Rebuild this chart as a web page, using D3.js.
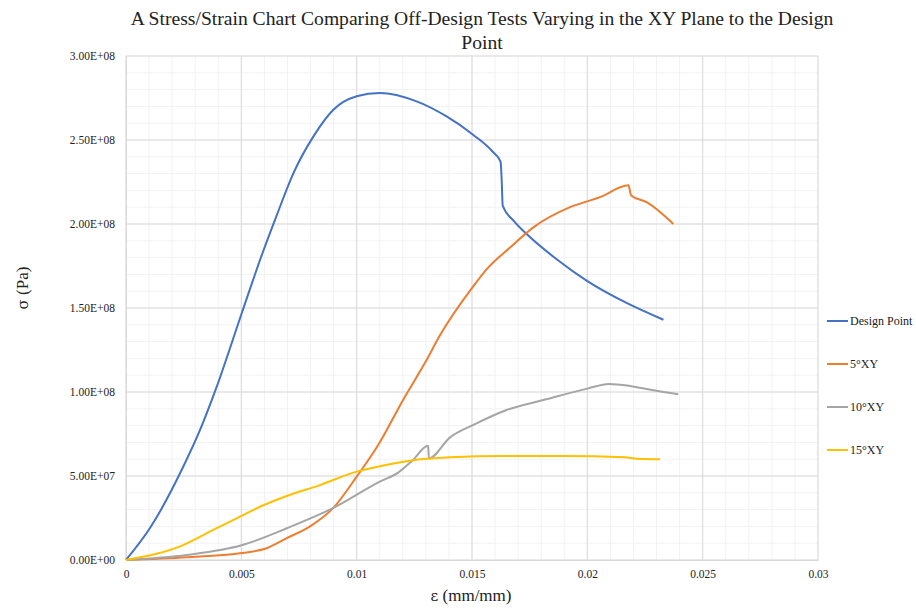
<!DOCTYPE html>
<html>
<head>
<meta charset="utf-8">
<script src="https://cdn.jsdelivr.net/npm/d3@7"></script>
<style>
  body { margin: 0; background: #fff; }
  svg text { fill: #222; }
</style>
</head>
<body>
<svg id="chart"></svg>
<script>
// values: [strain (mm/mm), stress (Pa)]
const designPoint = [
  [0, 0], [0.00104, 1.9e7], [0.00248, 5.55e7], [0.00321, 7.74e7], [0.00393, 1.03e8],
  [0.00502, 1.47e8], [0.0059, 1.82e8], [0.00653, 2.05e8], [0.00725, 2.30e8],
  [0.00812, 2.52e8], [0.00899, 2.68e8], [0.0100, 2.76e8], [0.0110, 2.78e8],
  [0.0126, 2.73e8], [0.0139, 2.64e8], [0.01506, 2.53e8], [0.0159, 2.43e8],
  [0.01624, 2.37e8], [0.01629, 2.25e8], [0.01633, 2.11e8], [0.0168, 2.02e8],
  [0.01737, 1.94e8], [0.01867, 1.79e8], [0.0200, 1.66e8], [0.0217, 1.53e8],
  [0.0233, 1.43e8]
];
const xy5 = [
  [0, 0], [0.00263, 1.6e6], [0.00494, 4e6], [0.0061, 7e6], [0.00697, 1.3e7],
  [0.00798, 2.0e7], [0.00899, 3.1e7], [0.0100, 4.96e7], [0.0110, 7.0e7],
  [0.0120, 9.5e7], [0.01303, 1.19e8], [0.01358, 1.33e8], [0.01506, 1.63e8],
  [0.01563, 1.73e8], [0.01665, 1.86e8], [0.01766, 1.98e8], [0.01925, 2.10e8],
  [0.02055, 2.16e8], [0.02178, 2.23e8], [0.02190, 2.17e8], [0.02257, 2.13e8],
  [0.02373, 2.0e8]
];
const xy10 = [
  [0, 0], [0.00263, 3e6], [0.00505, 8.9e6], [0.00697, 1.89e7], [0.00899, 3.1e7],
  [0.0110, 4.66e7], [0.0118, 5.2e7], [0.0124, 5.9e7], [0.01310, 6.8e7],
  [0.01313, 6.05e7], [0.01405, 7.3e7], [0.01506, 8.04e7], [0.0165, 8.93e7],
  [0.01809, 9.52e7], [0.0200, 1.02e8], [0.02093, 1.048e8], [0.02185, 1.036e8],
  [0.02286, 1.01e8], [0.02394, 9.86e7]
];
const xy15 = [
  [0, 0], [0.00248, 8.9e6], [0.00378, 1.79e7], [0.00494, 2.58e7], [0.00581, 3.17e7],
  [0.00697, 3.81e7], [0.00841, 4.46e7], [0.0100, 5.26e7], [0.0110, 5.58e7],
  [0.01231, 5.91e7], [0.01405, 6.11e7], [0.01636, 6.19e7], [0.01896, 6.19e7],
  [0.02163, 6.11e7], [0.02214, 6.03e7], [0.02315, 6.0e7]
];
const seriesNames = ['Design Point', '5°XY', '10°XY', '15°XY'];
const seriesData = [designPoint, xy5, xy10, xy15];
const seriesColors = ['#4472C4', '#ED7D31', '#A5A5A5', '#FFC000'];
const xTicks = [0, 0.005, 0.01, 0.015, 0.02, 0.025, 0.03];
const xTickLabels = ['0', '0.005', '0.01', '0.015', '0.02', '0.025', '0.03'];
const yTicks = [0, 5e7, 1e8, 1.5e8, 2e8, 2.5e8, 3e8];
const yTickLabels = ['0.00E+00', '5.00E+07', '1.00E+08', '1.50E+08', '2.00E+08', '2.50E+08', '3.00E+08'];

const width = 916, height = 608;
const serif = 'Liberation Serif';
const svg = d3.select('#chart').attr('width', width).attr('height', height);

const plot = { left: 126, right: 818, top: 56, bottom: 560 };
const x = d3.scaleLinear().domain([0, 0.03]).range([plot.left, plot.right]);
const y = d3.scaleLinear().domain([0, 3e8]).range([plot.bottom, plot.top]);

// minor gridlines
const grid = svg.append('g');
grid.selectAll('line.xminor')
  .data(d3.range(0, 31).map((i) => i * 0.001))
  .enter().append('line')
  .attr('x1', (d) => x(d)).attr('x2', (d) => x(d))
  .attr('y1', plot.top).attr('y2', plot.bottom)
  .style('stroke', '#f2f2f2').style('stroke-width', 1);
grid.selectAll('line.yminor')
  .data(d3.range(0, 31).map((i) => i * 1e7))
  .enter().append('line')
  .attr('y1', (d) => y(d)).attr('y2', (d) => y(d))
  .attr('x1', plot.left).attr('x2', plot.right)
  .style('stroke', '#f2f2f2').style('stroke-width', 1);

// major gridlines
grid.selectAll('line.xmajor')
  .data(xTicks)
  .enter().append('line')
  .attr('x1', (d) => x(d)).attr('x2', (d) => x(d))
  .attr('y1', plot.top).attr('y2', plot.bottom)
  .style('stroke', '#d9d9d9').style('stroke-width', 1);
grid.selectAll('line.ymajor')
  .data(yTicks)
  .enter().append('line')
  .attr('y1', (d) => y(d)).attr('y2', (d) => y(d))
  .attr('x1', plot.left).attr('x2', plot.right)
  .style('stroke', '#d9d9d9').style('stroke-width', 1);

// axes (labels only, lines come from the grid)
const xAxis = d3.axisBottom(x).tickValues(xTicks).tickFormat((d, i) => xTickLabels[i]).tickSize(0).tickPadding(10);
svg.append('g').attr('transform', `translate(0,${plot.bottom})`).call(xAxis)
  .attr('font-family', serif).attr('font-size', 11.5)
  .call((g) => g.select('.domain').style('stroke', '#d9d9d9'))
  .call((g) => g.selectAll('text').attr('fill', '#333'));

const yAxis = d3.axisLeft(y).tickValues(yTicks).tickFormat((d, i) => yTickLabels[i]).tickSize(0).tickPadding(11);
svg.append('g').attr('transform', `translate(${plot.left},0)`).call(yAxis)
  .attr('font-family', serif).attr('font-size', 11.5)
  .call((g) => g.select('.domain').style('stroke', '#d9d9d9'))
  .call((g) => g.selectAll('text').attr('fill', '#333'));

// series lines
const line = d3.line()
  .x((d) => x(d[0]))
  .y((d) => y(d[1]))
  .curve(d3.curveMonotoneX);

svg.append('g').selectAll('path')
  .data(seriesData)
  .enter().append('path')
  .attr('d', line)
  .style('fill', 'none')
  .style('stroke', (_, i) => seriesColors[i])
  .style('stroke-width', 2)
  .style('stroke-linejoin', 'round');

// legend
const legend = svg.append('g').attr('transform', 'translate(827,321)');
const items = legend.selectAll('g')
  .data(seriesNames)
  .enter().append('g')
  .attr('transform', (_, i) => `translate(0,${i * 43})`);
items.append('line')
  .attr('x1', 0).attr('x2', 21).attr('y1', 0).attr('y2', 0)
  .style('stroke', (_, i) => seriesColors[i])
  .style('stroke-width', 2);
items.append('text')
  .attr('x', 23).attr('y', 4)
  .attr('font-family', serif)
  .attr('font-size', 12)
  .text((d) => d);

// titles
svg.append('text')
  .attr('x', 482).attr('y', 25)
  .attr('text-anchor', 'middle')
  .attr('font-family', serif)
  .attr('font-size', 19.6)
  .text('A Stress/Strain Chart Comparing Off-Design Tests Varying in the XY Plane to the Design');
svg.append('text')
  .attr('x', 482).attr('y', 49)
  .attr('text-anchor', 'middle')
  .attr('font-family', serif)
  .attr('font-size', 19.6)
  .text('Point');

const xTitle = svg.append('text')
  .attr('x', 471).attr('y', 601)
  .attr('text-anchor', 'middle')
  .attr('font-family', serif)
  .attr('font-size', 17);
xTitle.append('tspan').attr('font-family', 'DejaVu Serif').attr('font-size', 15).text('ε');
xTitle.append('tspan').text(' (mm/mm)');

const yTitle = svg.append('text')
  .attr('transform', 'translate(28,288) rotate(-90)')
  .attr('text-anchor', 'middle')
  .attr('font-family', serif)
  .attr('font-size', 17);
yTitle.append('tspan').attr('font-family', 'DejaVu Serif').attr('font-size', 15).text('σ');
yTitle.append('tspan').text(' (Pa)');
</script>
</body>
</html>
